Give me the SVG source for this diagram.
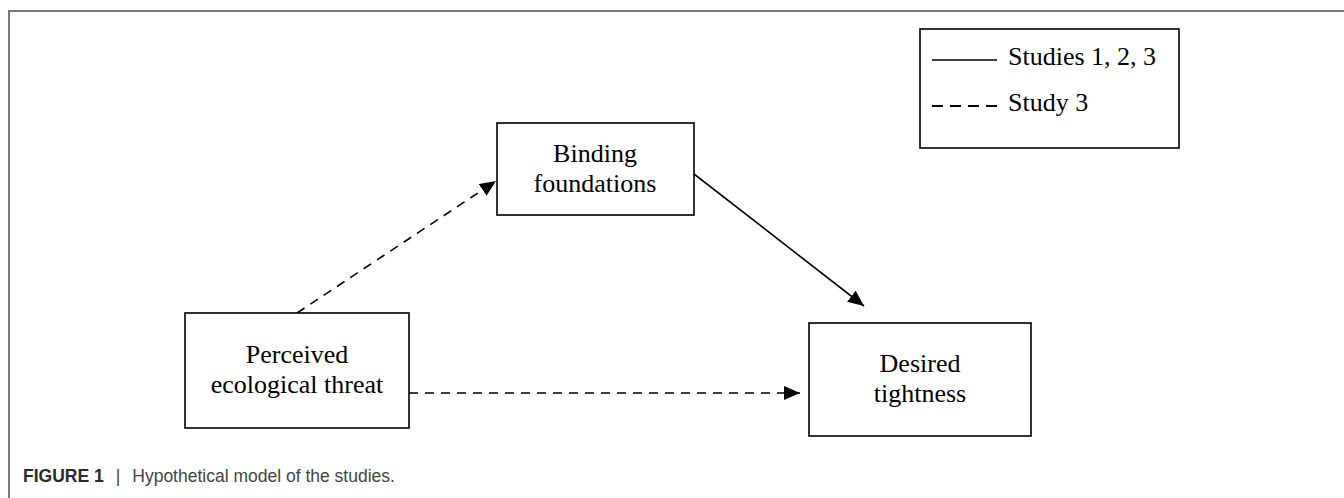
<svg xmlns="http://www.w3.org/2000/svg" width="1344" height="498" viewBox="0 0 1344 498">
<style>
.box{fill:#fff;stroke:#000;stroke-width:1.6}
.lbl{font-family:"Liberation Serif","Times New Roman",serif;font-size:26px;fill:#000;text-anchor:middle}
.leg{font-family:"Liberation Serif","Times New Roman",serif;font-size:26px;fill:#000}
.solid{stroke:#000;stroke-width:1.6;fill:none}
.dash{stroke:#000;stroke-width:1.6;fill:none;stroke-dasharray:9 7}
.cap{font-family:"Liberation Sans",Arial,sans-serif;font-size:17.5px}
</style>
<defs>
<marker id="ah" markerUnits="userSpaceOnUse" markerWidth="18" markerHeight="16" refX="16" refY="7" orient="auto">
<path d="M0,0 L16,7 L0,14 Z" fill="#000"/>
</marker>
</defs>
<rect width="1344" height="498" fill="#fff"/>
<g id="frame">
<path d="M9,498 L9,11 L1344,11" fill="none" stroke="#7a7a7a" stroke-width="2"/>
</g>
<g id="connectors">
<line class="dash" x1="297" y1="313" x2="496" y2="181" marker-end="url(#ah)"/>
<line class="solid" x1="694" y1="174" x2="864" y2="306" marker-end="url(#ah)"/>
<line class="dash" x1="409" y1="393" x2="800" y2="393" marker-end="url(#ah)"/>
</g>
<g id="node-binding">
<rect class="box" x="497" y="123" width="197" height="92"/>
<text class="lbl" x="595" y="162">Binding</text>
<text class="lbl" x="595" y="192">foundations</text>
</g>
<g id="node-perceived">
<rect class="box" x="185" y="313" width="224" height="115"/>
<text class="lbl" x="297" y="363">Perceived</text>
<text class="lbl" x="297" y="393">ecological threat</text>
</g>
<g id="node-desired">
<rect class="box" x="809" y="323" width="222" height="113"/>
<text class="lbl" x="920" y="372">Desired</text>
<text class="lbl" x="920" y="402">tightness</text>
</g>
<g id="legend">
<rect class="box" x="920" y="29" width="259" height="119"/>
<line class="solid" x1="932" y1="60" x2="997" y2="60"/>
<text class="leg" x="1008" y="65">Studies 1, 2, 3</text>
<line x1="932" y1="106" x2="997" y2="106" stroke="#000" stroke-width="2.2" stroke-dasharray="11 7"/>
<text class="leg" x="1008" y="111">Study 3</text>
</g>
<g id="caption">
<text class="cap" x="23" y="482"><tspan font-weight="bold" fill="#2a2a2a">FIGURE 1</tspan><tspan fill="#444" dx="12">|</tspan><tspan fill="#444" dx="12">Hypothetical model of the studies.</tspan></text>
</g>
</svg>
